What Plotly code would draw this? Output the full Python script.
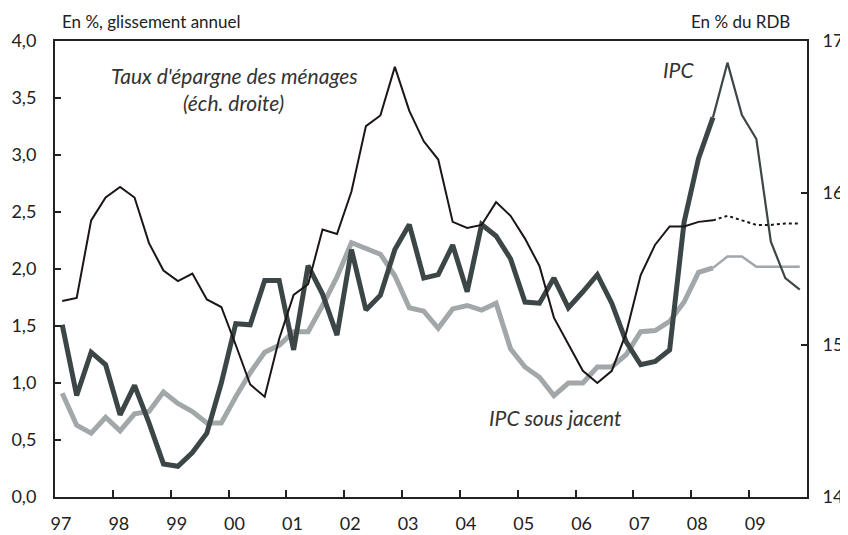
import plotly.graph_objects as go

# Trimestres 1997T1 .. 2009T4 (52 points), positionnés au milieu de chaque trimestre
years = list(range(1997, 2010))
quarters = [y + (q + 0.5) / 4 for y in years for q in range(4)]

# IPC, glissement annuel (%), trait épais jusqu'à 2008T2
ipc = [1.51, 0.89, 1.27, 1.16, 0.72, 0.98, 0.65, 0.29,
       0.27, 0.39, 0.56, 1.00, 1.52, 1.51, 1.90, 1.90,
       1.29, 2.03, 1.78, 1.42, 2.17, 1.64, 1.77, 2.17,
       2.39, 1.92, 1.95, 2.21, 1.80, 2.39, 2.29, 2.09,
       1.71, 1.70, 1.92, 1.66, 1.80, 1.95, 1.70, 1.36,
       1.16, 1.19, 1.29, 2.41, 2.97, 3.33]
# IPC, suite (trait fin) 2008T2 .. 2009T4
ipc_next = [3.33, 3.81, 3.35, 3.14, 2.24, 1.92, 1.82]

# IPC sous jacent
core = [0.91, 0.63, 0.56, 0.70, 0.58, 0.73, 0.75, 0.92,
        0.82, 0.75, 0.65, 0.65, 0.88, 1.09, 1.27, 1.33,
        1.45, 1.45, 1.68, 1.93, 2.23, 2.18, 2.13, 1.94,
        1.66, 1.63, 1.48, 1.65, 1.68, 1.64, 1.70, 1.30,
        1.14, 1.05, 0.89, 1.00, 1.00, 1.14, 1.14, 1.25,
        1.45, 1.46, 1.54, 1.71, 1.97, 2.01]
core_next = [2.01, 2.11, 2.11, 2.02, 2.02, 2.02, 2.02]

# Taux d'épargne des ménages, en % du RDB (échelle droite)
saving = [15.29, 15.31, 15.82, 15.97, 16.04, 15.97, 15.67, 15.49,
          15.42, 15.47, 15.30, 15.25, 15.00, 14.74, 14.66, 15.04,
          15.33, 15.40, 15.76, 15.73, 16.01, 16.44, 16.51, 16.83,
          16.54, 16.34, 16.22, 15.81, 15.77, 15.79, 15.94, 15.85,
          15.70, 15.52, 15.18, 15.01, 14.83, 14.75, 14.83, 15.08,
          15.46, 15.66, 15.78, 15.78, 15.81, 15.82]
saving_next = [15.82, 15.85, 15.82, 15.79, 15.79, 15.80, 15.80]

year_labels = ["97", "98", "99", "00", "01", "02", "03", "04", "05", "06", "07", "08", "09"]

DARK = "#3d4647"
LIGHT = "#a2a7aa"
BLACK = "#1b1515"
FONT = "Lato"

n = len(ipc)
x_hist = quarters[:n]
x_next = quarters[n - 1:]

fig = go.Figure()

fig.add_trace(go.Scatter(x=x_hist, y=core, mode="lines",
                         line=dict(color=LIGHT, width=5)))
fig.add_trace(go.Scatter(x=x_next, y=core_next, mode="lines",
                         line=dict(color=LIGHT, width=2.5)))
fig.add_trace(go.Scatter(x=x_hist, y=ipc, mode="lines",
                         line=dict(color=DARK, width=5)))
fig.add_trace(go.Scatter(x=x_next, y=ipc_next, mode="lines",
                         line=dict(color=DARK, width=2.2)))
fig.add_trace(go.Scatter(x=x_hist, y=saving, mode="lines", yaxis="y2",
                         line=dict(color=BLACK, width=2)))
fig.add_trace(go.Scatter(x=x_next, y=saving_next, mode="lines", yaxis="y2",
                         line=dict(color=BLACK, width=2, dash="dot")))

axis_font = dict(family=FONT, size=18, color="#222")

# the page body keeps its default 8px margin, so the figure is drawn 8px smaller
fig.update_layout(
    width=840, height=527,
    margin=dict(l=47, r=41, t=33, b=38),
    paper_bgcolor="white", plot_bgcolor="white",
    showlegend=False,
    separators=", ",
    font=dict(family=FONT, color="#222"),
    xaxis=dict(
        range=[1997, 2010], automargin=False,
        tickvals=years, ticktext=year_labels,
        ticks="inside", ticklen=7, tickwidth=1.5, tickcolor="#222",
        ticklabelshift=6, ticklabelstandoff=9,
        showline=True, linecolor="#222", linewidth=2, mirror=True,
        showgrid=False, zeroline=False, tickfont=axis_font,
    ),
    yaxis=dict(
        range=[0, 4], dtick=0.5, tickformat=".1f", automargin=False,
        ticks="inside", ticklen=6, tickwidth=1.5, tickcolor="#222",
        showline=True, linecolor="#222", linewidth=2,
        showgrid=False, zeroline=False, tickfont=axis_font,
        ticklabelstandoff=13,
    ),
    yaxis2=dict(
        range=[14, 17], tickvals=[14, 15, 16, 17], automargin=False,
        overlaying="y", side="right",
        ticks="inside", ticklen=6, tickwidth=1.5, tickcolor="#222",
        showline=True, linecolor="#222", linewidth=2,
        showgrid=False, zeroline=False, tickfont=axis_font,
        ticklabelstandoff=10,
    ),
)

note = dict(family=FONT, size=21, color="#333")
fig.add_annotation(x=2000.11, y=3.70, text="<i>Taux d'épargne des ménages</i>",
                   showarrow=False, font=note)
fig.add_annotation(x=2000.09, y=3.46, text="<i>(éch. droite)</i>",
                   showarrow=False, font=note)
fig.add_annotation(x=2007.77, y=3.75, text="<i>IPC</i>", showarrow=False, font=note)
fig.add_annotation(x=2005.66, y=0.70, text="<i>IPC sous jacent</i>",
                   showarrow=False, font=note)

fig.add_annotation(x=0.006, y=1.042, xref="paper", yref="paper",
                   xanchor="left", yanchor="middle", showarrow=False,
                   text="En %, glissement annuel", font=dict(family=FONT, size=17, color="#222"))
fig.add_annotation(x=0.98, y=1.042, xref="paper", yref="paper",
                   xanchor="right", yanchor="middle", showarrow=False,
                   text="En % du RDB", font=dict(family=FONT, size=17, color="#222"))

fig.write_html("out.html")
